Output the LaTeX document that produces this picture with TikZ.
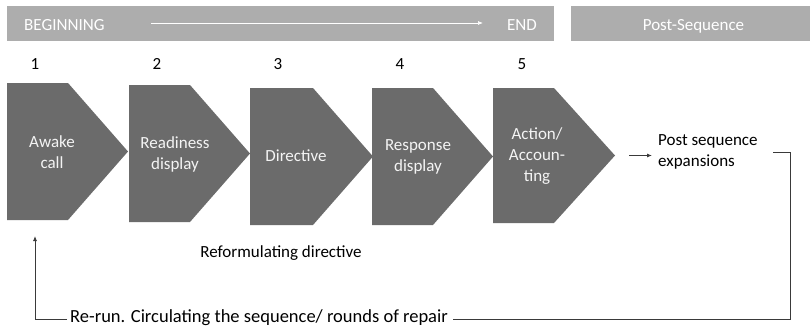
\documentclass[tikz,border=0pt]{standalone}
\usepackage{fontspec}
\setmainfont{Carlito}
\usetikzlibrary{arrows.meta}

\definecolor{barfill}{HTML}{ADADAD}
\definecolor{chevfill}{HTML}{6B6B6B}
\definecolor{chevtext}{HTML}{F4F4F4}
\definecolor{linecol}{HTML}{3A3A3A}

% one grey chevron: left, top, bottom, shoulder x, tip x
\newcommand\chevshape[5]{%
  \fill[chevfill] (#1,#2) -- (#4,#2) -- (#5,{(#2+#3)/2}) -- (#4,#3) -- (#1,#3) -- cycle;}

\begin{document}
\begin{tikzpicture}[x=1pt,y=-1pt,
  bigfont/.style={font=\fontsize{17}{21}\selectfont},
  bartext/.style={bigfont,text=white,inner sep=0},
  stepnum/.style={bigfont,inner sep=0,anchor=base},
  chevlabel/.style={bigfont,text=chevtext,align=center,inner sep=0},
  plain/.style={bigfont,inner sep=0},
  link/.style={draw=linecol,line width=0.8pt},
  tipend/.style={-{Latex[length=5pt,width=4pt]}}]
\useasboundingbox (0,0) rectangle (810,332);

% header bars
\fill[barfill] (7,6) rectangle (554,41);
\fill[barfill] (571,6) rectangle (810,41);
\node[bartext,anchor=base west] (beg) at (24,30) {BEGINNING};
\node[bartext,anchor=base east] (end) at (537,30) {END};
\node[bartext,anchor=base] (postseq) at (693.5,30) {Post-Sequence};
\coordinate (runS) at (151,23);
\coordinate (runE) at (483,23);
\draw[white,line width=0.7pt,-{Latex[length=5pt,width=4pt]}] (runS) -- (runE);

% step numbers
\node[stepnum] (n1) at (35,69) {1};
\node[stepnum] (n2) at (157,69) {2};
\node[stepnum] (n3) at (278,69) {3};
\node[stepnum] (n4) at (400,69) {4};
\node[stepnum] (n5) at (522,69) {5};

% chevrons
\chevshape{7}{83}{220}{68}{128}
\chevshape{129}{85}{222}{190}{250}
\chevshape{250}{88}{225}{313}{373}
\chevshape{372}{88}{225}{433}{493}
\chevshape{493}{88}{223}{554}{615}
\coordinate (tip5) at (615,155.5);
\coordinate (foot1) at (35,224);

\node[chevlabel] (c1) at (52,152) {Awake\\call};
\node[chevlabel] (c2) at (175,154) {Readiness\\display};
\node[chevlabel] (c3) at (296,156) {Directive};
\node[chevlabel] (c4) at (418,157) {Response\\display};
\node[chevlabel] (c5) at (537,156) {Action/\\Accoun-\\ting};

% post sequence
\node[plain,align=left,anchor=west] (ps) at (658,152) {Post sequence\\expansions};
\draw[link,tipend,shorten <=14pt,shorten >=6pt] (tip5) -- (tip5 -| ps.west);

% reformulating note
\node[plain,anchor=base] (reform) at (281,257) {Reformulating directive};

% repair loop
\node[inner sep=0,anchor=base west,font=\fontsize{18.5}{22}\selectfont] (rerun) at (70,322.5)
  {Re-run. Circulating the sequence/ rounds of repair};
\coordinate (bend) at (790,152);
\draw[link] ([xshift=5pt]rerun.east |- 0,319.5) -| (bend) -- (773,152);
\draw[link,tipend,shorten >=12pt] ([xshift=-3pt]rerun.west |- 0,319.5) -| (foot1);
\end{tikzpicture}
\end{document}
